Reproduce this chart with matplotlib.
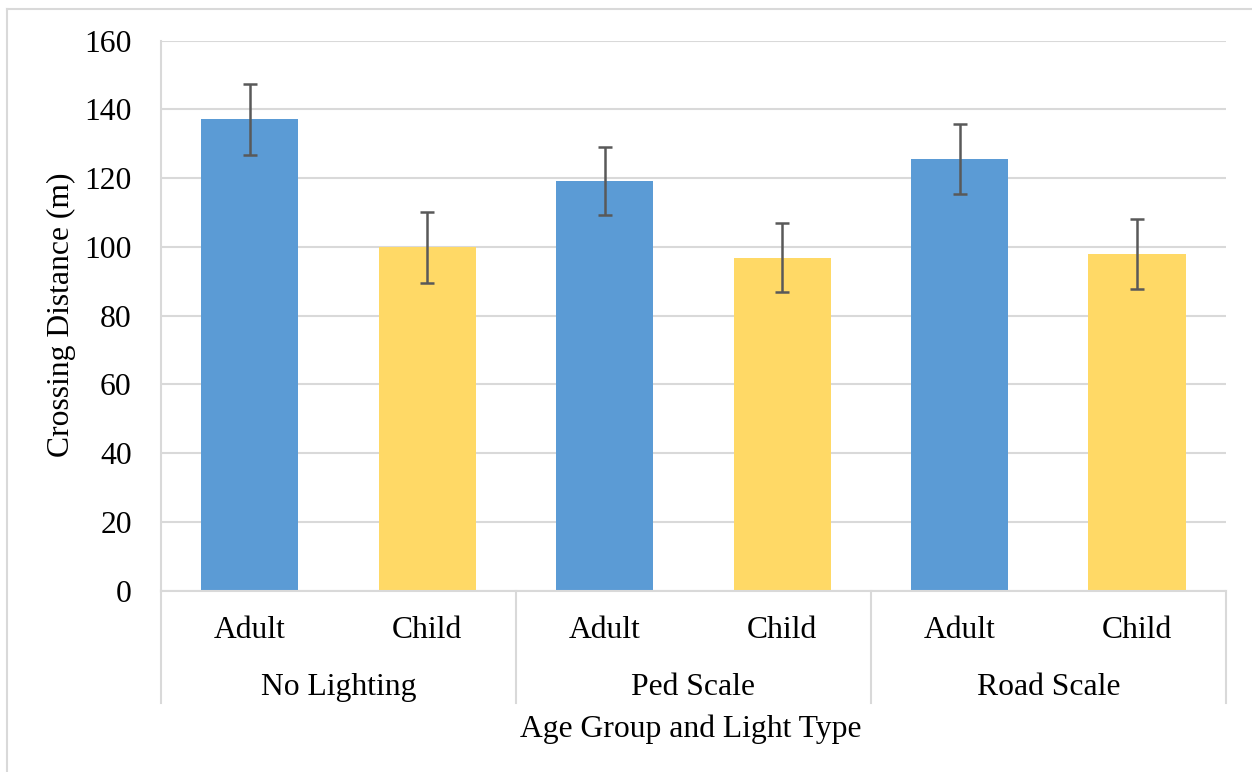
import matplotlib.pyplot as plt
from matplotlib.lines import Line2D

plt.rcParams['font.family'] = ['Liberation Serif', 'DejaVu Serif']

groups = ["No Lighting", "Ped Scale", "Road Scale"]
ages = ["Adult", "Child"]
distance = [137.1, 99.9, 119.1, 96.8, 125.6, 97.9]
error = [10.3, 10.3, 9.9, 10.0, 10.2, 10.2]
bar_colors = ["#5B9BD5", "#FFD966"] * 3

grid_color = "#D9D9D9"
fs = 22.8

fig = plt.figure(figsize=(12.52, 7.72), dpi=100)
ax = fig.add_axes([0.1286, 0.2351, 0.979 - 0.1286, 0.9475 - 0.2351])

x = list(range(len(distance)))
ax.bar(x, distance, width=0.547, color=bar_colors, zorder=2)
ax.errorbar(x, distance, yerr=error, fmt="none", ecolor="#595959",
            elinewidth=1.8, capsize=4.8, capthick=1.8, zorder=3)

ax.set_xlim(-0.5, len(distance) - 0.5)
ax.set_ylim(0, 160)
ax.set_yticks(range(0, 161, 20))
ax.yaxis.grid(True, color=grid_color, linewidth=1.5, zorder=0)
ax.set_axisbelow(True)
ax.tick_params(axis="y", length=0, pad=21, labelsize=fs)
ax.set_xticks([])

for side in ["top", "right"]:
    ax.spines[side].set_visible(False)
for side in ["left", "bottom"]:
    ax.spines[side].set_color(grid_color)
    ax.spines[side].set_linewidth(1.5)

trans = ax.get_xaxis_transform()
for i in x:
    ax.text(i, -0.072, ages[i % 2], transform=trans, ha="center", va="center",
            fontsize=fs)
for g, name in enumerate(groups):
    ax.text(2 * g + 0.5, -0.177, name, transform=trans, ha="center",
            va="center", fontsize=fs)
for sep in [-0.5, 1.5, 3.5, 5.5]:
    ax.plot([sep, sep], [0, -0.2045], transform=trans, color=grid_color,
            linewidth=1.5, clip_on=False)

fig.text(0.5515, 0.056, "Age Group and Light Type", ha="center", va="center",
         fontsize=fs)
fig.text(0.049, 0.592, "Crossing Distance (m)", rotation=90, ha="center",
         va="center", fontsize=fs)

# chart area border (top and left edges visible)
fig.add_artist(Line2D([7 / 1252, 1.0], [1 - 9 / 772, 1 - 9 / 772],
                      color=grid_color, linewidth=1.5))
fig.add_artist(Line2D([7 / 1252, 7 / 1252], [0.0, 1 - 9 / 772],
                      color=grid_color, linewidth=1.5))

fig.savefig("out.png", dpi=100)
